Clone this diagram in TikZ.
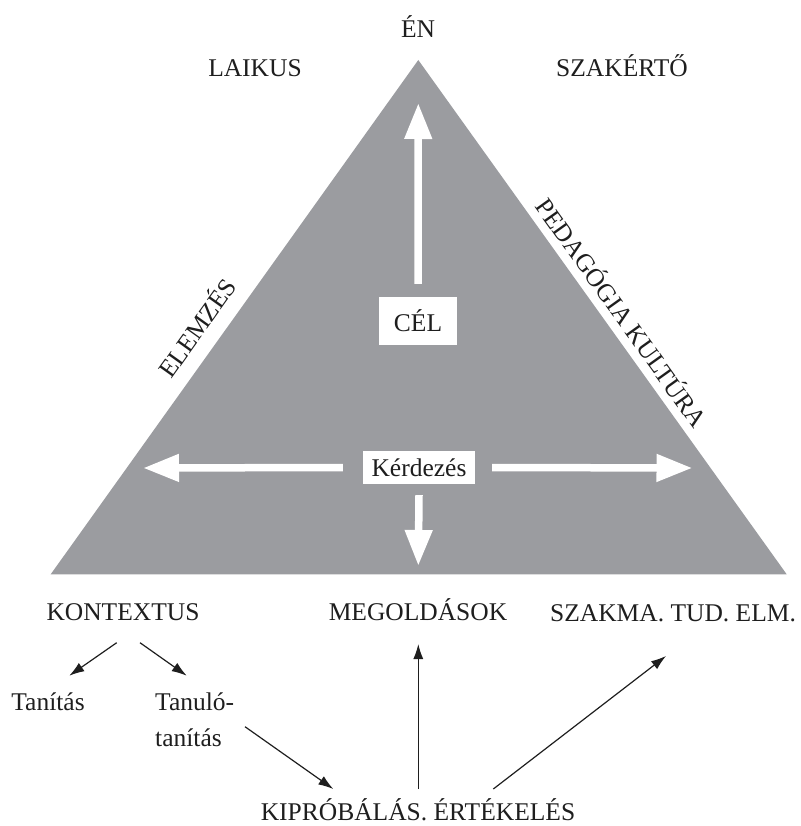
\documentclass[tikz,border=0pt]{standalone}
\usepackage{fontspec}
\setmainfont{Liberation Serif}
\usetikzlibrary{arrows.meta}
\definecolor{trigray}{RGB}{155,156,160}
\definecolor{ink}{RGB}{30,30,30}
\begin{document}
\begin{tikzpicture}[x=1pt,y=-1pt,
  every node/.style={font=\fontsize{25.5pt}{30pt}\selectfont, text=ink, inner sep=0pt},
  lbl/.style={anchor=base},
  lblw/.style={anchor=base west},
  wbox/.style={fill=white, inner sep=0pt},
  bigarrow/.style={draw=white, line width=7.5pt, -{Triangle[width=26pt,length=36pt]}},
  thinarrow/.style={draw=ink, line width=1.2pt, -{Latex[length=15pt,width=10pt]}}
]
\useasboundingbox (0,0) rectangle (800,826);
% triangle
\coordinate (apex) at (418.3,60);
\coordinate (bl) at (50.7,574.3);
\coordinate (br) at (786.7,574.3);
\fill[trigray] (apex) -- (br) -- (bl) -- cycle;

% top labels
\node[lbl] (en) at (418,38) {ÉN};
\node[lbl] (laikus) at (255,77) {LAIKUS};
\node[lbl] (szakerto) at (622,77) {SZAKÉRTŐ};

% side labels
\node[rotate=54.4] (elemzes) at (196,327) {ELEMZÉS};
\node[rotate=-54.4] (pedkult) at (623,312) {PEDAGÓGIA KULTÚRA};

% boxes
\node[wbox, minimum width=78pt, minimum height=48pt] (cel) at (418,321) {CÉL};
\node[wbox, minimum width=112pt, minimum height=33pt] (kerd) at (419,467.5) {Kérdezés};

% white arrows
\coordinate (uptip) at (418.3,103);
\coordinate (lefttip) at (143,468);
\coordinate (righttip) at (692.5,468);
\coordinate (downtip) at (418.3,566);
\draw[bigarrow] ([yshift=13pt]cel.north) -- (uptip);
\draw[bigarrow] ([xshift=-20pt]kerd.west) -- (lefttip);
\draw[bigarrow] ([xshift=17pt]kerd.east) -- (righttip);
\draw[bigarrow] ([yshift=-11pt]kerd.south) -- (downtip);

% bottom labels
\node[lbl] (kontextus) at (123,620) {KONTEXTUS};
\node[lbl] (megold) at (418,620) {MEGOLDÁSOK};
\node[lbl] (szakma) at (673,621) {SZAKMA. TUD. ELM.};
\node[lbl] (tanitas) at (48,710) {Tanítás};
\node[lblw] (tanulo) at (155,710) {Tanuló-};
\node[lblw] (tanulo2) at (155,746) {tanítás};
\node[lbl] (kiprob) at (418,820) {KIPRÓBÁLÁS. ÉRTÉKELÉS};

% thin arrows
\draw[thinarrow] ([xshift=-6.3pt,yshift=-22.7pt]kontextus.base) -- ([xshift=21.3pt,yshift=34.3pt]tanitas.base);
\draw[thinarrow] ([xshift=17pt,yshift=-22.7pt]kontextus.base) -- ([xshift=31.7pt,yshift=34.3pt]tanulo.base west);
\draw[thinarrow] ([xshift=90pt,yshift=19.3pt]tanulo2.base west) -- ([xshift=-84.7pt,yshift=31pt]kiprob.base);
\draw[thinarrow] ([xshift=0.3pt,yshift=31pt]kiprob.base) -- ([xshift=0.3pt,yshift=-24pt]megold.base);
\draw[thinarrow] ([xshift=75.3pt,yshift=31pt]kiprob.base) -- ([xshift=-7pt,yshift=-35pt]szakma.base);
\end{tikzpicture}
\end{document}
